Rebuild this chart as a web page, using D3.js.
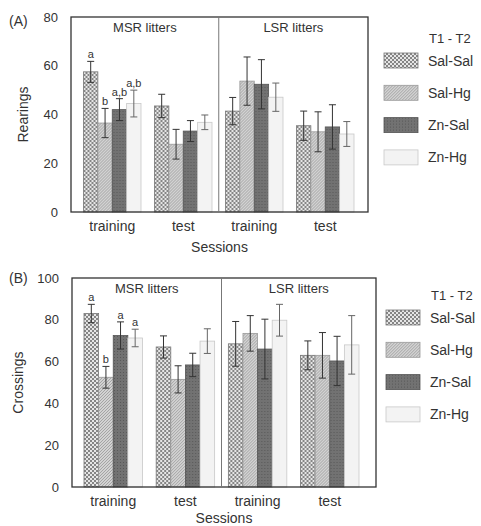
<!DOCTYPE html>
<html>
<head>
<meta charset="utf-8">
<script src="https://cdnjs.cloudflare.com/ajax/libs/d3/7.8.5/d3.min.js"></script>
<style>
  body { margin: 0; background: #fff; }
  svg { display: block; font-family: "Liberation Sans", Arial, sans-serif; }
</style>
</head>
<body>
<svg width="481" height="526"></svg>
<script>
// data
const sessions = ["training", "test", "training", "test"];
const litters = ["MSR litters", "LSR litters"];
const treatments = ["Sal-Sal", "Sal-Hg", "Zn-Sal", "Zn-Hg"];

const rearingsMean = [
  [57.5, 36.5, 42.0, 44.5],
  [43.5, 27.8, 33.2, 36.8],
  [41.4, 53.7, 52.4, 47.1],
  [35.4, 32.9, 34.9, 32.0]
];
const rearingsErr = [
  [4.3, 6.0, 4.5, 5.5],
  [4.8, 6.1, 4.3, 3.0],
  [5.6, 9.9, 10.1, 5.8],
  [6.0, 8.2, 9.1, 5.1]
];
const rearingsLetters = [["a", "b", "a,b", "a,b"], [], [], []];
const rearingsTicks = [0, 20, 40, 60, 80];

const crossingsMean = [
  [83.0, 52.5, 72.5, 71.3],
  [67.0, 51.5, 58.4, 69.8],
  [68.5, 73.5, 66.0, 79.8],
  [63.0, 63.0, 60.3, 68.0]
];
const crossingsErr = [
  [4.4, 5.2, 6.5, 4.2],
  [5.3, 6.5, 5.6, 5.9],
  [10.7, 8.5, 14.3, 7.6],
  [6.9, 10.9, 11.8, 14.0]
];
const crossingsLetters = [["a", "b", "a", "a"], [], [], []];
const crossingsTicks = [0, 20, 40, 60, 80, 100];

const svg = d3.select("svg");
const defs = svg.append("defs");

// fill patterns for the four groups
const p1 = defs.append("pattern").attr("id", "pat0")
  .attr("width", 4).attr("height", 4).attr("patternUnits", "userSpaceOnUse");
p1.append("rect").attr("width", 4).attr("height", 4).attr("fill", "#858585");
p1.append("rect").attr("x", 0).attr("y", 0).attr("width", 2).attr("height", 2).attr("fill", "#e6e6e6");
p1.append("rect").attr("x", 2).attr("y", 2).attr("width", 2).attr("height", 2).attr("fill", "#e6e6e6");

const p2 = defs.append("pattern").attr("id", "pat1")
  .attr("width", 3).attr("height", 3).attr("patternUnits", "userSpaceOnUse");
p2.append("rect").attr("width", 3).attr("height", 3).attr("fill", "#d2d2d2");
p2.append("path").attr("d", "M0,3 L3,0").attr("stroke", "#a4a4a4").attr("stroke-width", 1);

const p3 = defs.append("pattern").attr("id", "pat2")
  .attr("width", 3).attr("height", 3).attr("patternUnits", "userSpaceOnUse");
p3.append("rect").attr("width", 3).attr("height", 3).attr("fill", "#727272");
p3.append("rect").attr("width", 1).attr("height", 1).attr("fill", "#585858");

const fills = ["url(#pat0)", "url(#pat1)", "url(#pat2)", "#f3f3f3"];
const strokes = ["#777", "#999", "#555", "#c8c8c8"];

function drawPanel(opt) {
  const g = svg.append("g");

  const y = d3.scaleLinear().domain(opt.domain).range([opt.bottom, opt.top]);
  const x = d3.scaleBand().domain(d3.range(sessions.length))
    .range(opt.bandRange).paddingInner(0.19).paddingOuter(0);
  const xs = d3.scaleBand().domain(treatments).range([0, x.bandwidth()]);

  // y tick labels (no tick marks)
  const yAxis = d3.axisLeft(y).tickValues(opt.ticks).tickSize(0).tickPadding(13);
  const ya = g.append("g").attr("transform", `translate(${opt.left},0)`).call(yAxis);
  ya.select(".domain").remove();
  ya.selectAll("text").attr("font-size", 13).attr("fill", "#333")
    .attr("font-family", "Liberation Sans, Arial, sans-serif");

  // bars
  const groups = g.selectAll(".grp").data(opt.mean).join("g")
    .attr("class", "grp")
    .attr("transform", (d, i) => `translate(${x(i)},0)`);

  groups.selectAll("rect").data(d => d).join("rect")
    .attr("x", (d, j) => xs(treatments[j]))
    .attr("y", d => y(d))
    .attr("width", xs.bandwidth())
    .attr("height", d => y(0) - y(d))
    .attr("fill", (d, j) => fills[j])
    .attr("stroke", (d, j) => strokes[j])
    .attr("stroke-width", 0.8);

  // error bars
  groups.each(function(d, i) {
    const eg = d3.select(this);
    d.forEach((m, j) => {
      const e = opt.err[i][j];
      const cx = xs(treatments[j]) + xs.bandwidth() / 2;
      const col = j === 3 ? "#666" : "#333";
      eg.append("line").attr("x1", cx).attr("x2", cx)
        .attr("y1", y(m + e)).attr("y2", y(m - e))
        .attr("stroke", col).attr("stroke-width", 1);
      [m + e, m - e].forEach(v => {
        eg.append("line").attr("x1", cx - 3.5).attr("x2", cx + 3.5)
          .attr("y1", y(v)).attr("y2", y(v))
          .attr("stroke", col).attr("stroke-width", 1);
      });
      const lab = opt.letters[i][j];
      if (lab) {
        eg.append("text").attr("x", cx).attr("y", y(m + e) - 3)
          .attr("text-anchor", "middle").attr("font-size", 11)
          .attr("fill", "#333").text(lab);
      }
    });
  });

  // frame and divider
  g.append("rect").attr("x", opt.left).attr("y", opt.top)
    .attr("width", opt.right - opt.left).attr("height", opt.bottom - opt.top)
    .attr("fill", "none").attr("stroke", "#333").attr("stroke-width", 1.3);
  const mid = (x(1) + x.bandwidth() + x(2)) / 2;
  g.append("line").attr("x1", mid).attr("x2", mid)
    .attr("y1", opt.top).attr("y2", opt.bottom)
    .attr("stroke", "#777").attr("stroke-width", 1);

  // litter titles
  g.append("text").attr("x", (opt.left + mid) / 2).attr("y", opt.top + 15)
    .attr("text-anchor", "middle").attr("font-size", 13).attr("fill", "#333").text(litters[0]);
  g.append("text").attr("x", (mid + opt.right) / 2).attr("y", opt.top + 15)
    .attr("text-anchor", "middle").attr("font-size", 13).attr("fill", "#333").text(litters[1]);

  // session labels
  g.selectAll(".sess").data(sessions).join("text")
    .attr("class", "sess")
    .attr("x", (d, i) => x(i) + x.bandwidth() / 2)
    .attr("y", opt.bottom + 19)
    .attr("text-anchor", "middle").attr("font-size", 14).attr("fill", "#333")
    .text(d => d);

  g.append("text").attr("x", (opt.left + opt.right) / 2).attr("y", opt.sessY)
    .attr("text-anchor", "middle").attr("font-size", 14).attr("fill", "#333").text("Sessions");

  g.append("text")
    .attr("transform", `translate(${opt.ylabX},${(opt.top + opt.bottom) / 2}) rotate(-90)`)
    .attr("text-anchor", "middle").attr("font-size", 14).attr("fill", "#333").text(opt.ylabel);

  g.append("text").attr("x", 9).attr("y", opt.tagY)
    .attr("font-size", 14).attr("fill", "#333").text(opt.tag);

  // legend
  const lg = g.append("g").attr("transform", `translate(${opt.legX},${opt.legY})`);
  lg.append("text").attr("x", 45).attr("y", -10).attr("font-size", 13)
    .attr("fill", "#333").text("T1 - T2");
  const items = lg.selectAll(".li").data(treatments).join("g")
    .attr("class", "li").attr("transform", (d, j) => `translate(0,${j * 32.3})`);
  items.append("rect").attr("width", 34).attr("height", 15)
    .attr("fill", (d, j) => fills[j]).attr("stroke", (d, j) => strokes[j]).attr("stroke-width", 0.8);
  items.append("text").attr("x", 44).attr("y", 12.5).attr("font-size", 14)
    .attr("fill", "#333").text(d => d);
}

drawPanel({
  tag: "(A)", tagY: 26, ylabel: "Rearings", ylabX: 28, sessY: 252,
  mean: rearingsMean, err: rearingsErr, letters: rearingsLetters,
  domain: [0, 80], ticks: rearingsTicks,
  left: 71, right: 368, top: 17, bottom: 212, bandRange: [83.5, 354],
  legX: 384, legY: 53
});

drawPanel({
  tag: "(B)", tagY: 283, ylabel: "Crossings", ylabX: 23, sessY: 523,
  mean: crossingsMean, err: crossingsErr, letters: crossingsLetters,
  domain: [0, 100], ticks: crossingsTicks,
  left: 72, right: 376, top: 278, bottom: 487, bandRange: [84, 359],
  legX: 386, legY: 310
});
</script>
</body>
</html>
